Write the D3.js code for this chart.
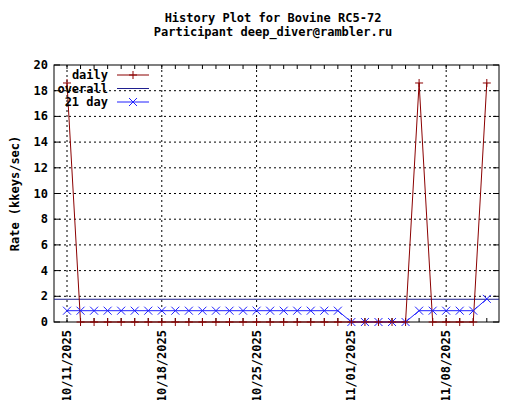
<!DOCTYPE html><html><head><script src="https://cdn.jsdelivr.net/npm/d3@7"></script>
<style>body{margin:0;background:#fff}text{font-family:"DejaVu Sans Mono",monospace;font-weight:bold;font-size:12px}</style></head><body>
<svg id="c" width="520" height="400"></svg>
<script>
const days=d3.range(32);
const daily=[18.6,0,0,0,0,0,0,0,0,0,0,0,0,0,0,0,0,0,0,0,0,0,0,0,0,0,18.6,0,0,0,0,18.6];
const avg21=[0.88,0.88,0.88,0.88,0.88,0.88,0.88,0.88,0.88,0.88,0.88,0.88,0.88,0.88,0.88,0.88,0.88,0.88,0.88,0.88,0.88,0,0,0,0,0,0.88,0.88,0.88,0.88,0.88,1.8];
const overall=1.77;
const xTickDays=[0,7,14,21,28];
const xTickLabels=["10/11/2025","10/18/2025","10/25/2025","11/01/2025","11/08/2025"];
const yTicks=d3.range(0,21,2);
const svg=d3.select("#c");
const L=54,R=499,T=65,B=322;
const x=d3.scaleLinear().domain([-0.96,31.9]).range([L,R]);
const y=d3.scaleLinear().domain([0,20]).range([B,T]);
svg.append("g").selectAll("line").data(yTicks.slice(1,-1)).join("line").attr("x1",L).attr("x2",R).attr("y1",d=>y(d)).attr("y2",d=>y(d)).attr("stroke","#000").attr("stroke-dasharray","2,3");
svg.append("g").selectAll("line").data(xTickDays).join("line").attr("y1",T).attr("y2",B).attr("x1",d=>x(d)).attr("x2",d=>x(d)).attr("stroke","#000").attr("stroke-dasharray","2,3");
svg.append("rect").attr("x",L).attr("y",T).attr("width",R-L).attr("height",B-T).attr("fill","none").attr("stroke","#000");
yTicks.forEach(d=>{svg.append("line").attr("x1",L).attr("x2",L+6).attr("y1",y(d)).attr("y2",y(d)).attr("stroke","#000");svg.append("line").attr("x1",R).attr("x2",R-6).attr("y1",y(d)).attr("y2",y(d)).attr("stroke","#000");
svg.append("text").attr("x",L-6).attr("y",y(d)+4).attr("text-anchor","end").text(d);});
days.forEach(d=>{svg.append("line").attr("x1",x(d)).attr("x2",x(d)).attr("y1",B).attr("y2",B-4).attr("stroke","#000");svg.append("line").attr("x1",x(d)).attr("x2",x(d)).attr("y1",T).attr("y2",T+4).attr("stroke","#000");});
xTickDays.forEach((d,i)=>svg.append("text").attr("transform",`translate(${x(d)+4},${B+8}) rotate(-90)`).attr("text-anchor","end").text(xTickLabels[i]));
svg.append("text").attr("transform",`translate(19,${(T+B)/2}) rotate(-90)`).attr("text-anchor","middle").text("Rate (kkeys/sec)");
svg.append("text").attr("x",273).attr("y",22).attr("text-anchor","middle").text("History Plot for Bovine RC5-72");
svg.append("text").attr("x",273).attr("y",36).attr("text-anchor","middle").text("Participant deep_diver@rambler.ru");
svg.append("line").attr("x1",L).attr("x2",R).attr("y1",y(overall)).attr("y2",y(overall)).attr("stroke","#1f1f8f");
const line=d3.line().x((d,i)=>x(i)).y(d=>y(d));
svg.append("path").attr("d",line(avg21)).attr("fill","none").attr("stroke","#2020ff");
const cross=(g,cx,cy,c)=>{g.append("path").attr("d",`M${cx-4},${cy-4}L${cx+4},${cy+4}M${cx-4},${cy+4}L${cx+4},${cy-4}`).attr("stroke",c);};
const plus=(g,cx,cy,c)=>{g.append("path").attr("d",`M${cx-4},${cy}L${cx+4},${cy}M${cx},${cy-4}L${cx},${cy+4}`).attr("stroke",c);};
svg.append("path").attr("d",line(daily)).attr("fill","none").attr("stroke","#8b0000");
const g=svg.append("g");
avg21.forEach((d,i)=>cross(g,x(i),y(d),"#2020ff"));
daily.forEach((d,i)=>plus(g,x(i),y(d),"#8b0000"));
const lg=[["daily","#8b0000",plus],["overall","#1f1f8f",null],["21 day","#2020ff",cross]];
lg.forEach((l,i)=>{const yy=75+i*13.5;svg.append("text").attr("x",108).attr("y",yy+4).attr("text-anchor","end").text(l[0]);
svg.append("line").attr("x1",117).attr("x2",149).attr("y1",yy).attr("y2",yy).attr("stroke",l[1]);if(l[2])l[2](svg,133,yy,l[1]);});
</script></body></html>
